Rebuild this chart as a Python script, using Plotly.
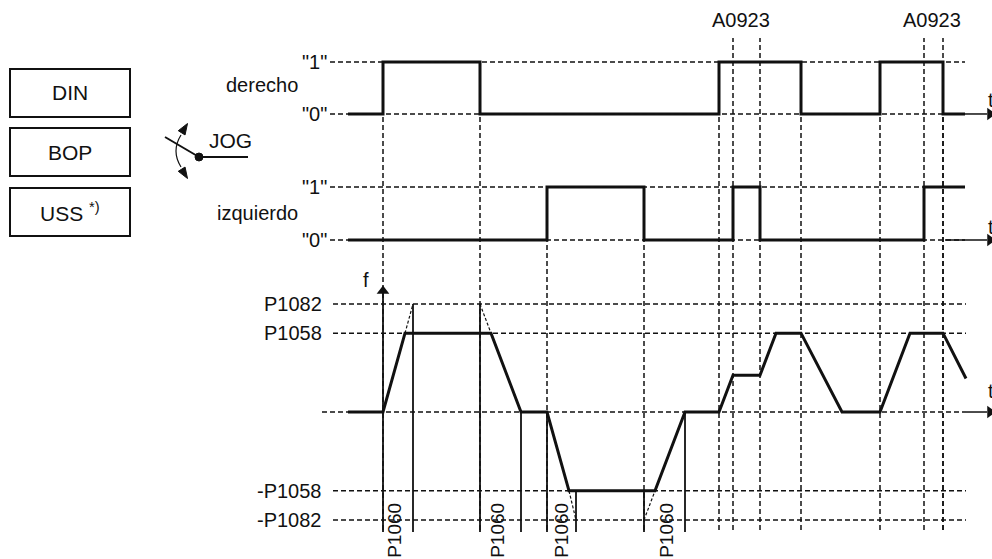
import plotly.graph_objects as go

# ---------------- data (time in arbitrary units, 0 = first start command) ----------------
der_t = [-3.5, 0.0, 9.7, 33.6, 41.8, 49.7, 56.0, 58.2]
der_v = [0, 1, 0, 1, 0, 1, 0, 0]
izq_t = [-3.5, 16.4, 26.1, 35.0, 37.7, 54.1, 58.2]
izq_v = [0, 1, 0, 1, 0, 1, 1]
f_t = [-3.5, 0.0, 2.2, 10.8, 13.8, 16.4, 18.6, 27.2, 30.2, 33.6, 35.0, 37.7,
       39.3, 41.8, 45.9, 49.7, 52.7, 56.0, 58.3]
f_v = [0, 0, 0.73, 0.73, 0, 0, -0.73, -0.73, 0, 0, 0.34, 0.34,
       0.73, 0.73, 0, 0, 0.73, 0.73, 0.31]

digital_levels = [0, 1]
digital_labels = ['"0"', '"1"']
f_levels = [1.0, 0.73, -0.73, -1.0]
f_labels = ['P1082', 'P1058', '-P1058', '-P1082']

der_edges = [0.0, 9.7, 33.6, 41.8, 49.7, 56.0]
izq_edges = [16.4, 26.1]
a0923_t = [35.0, 37.7, 54.1, 56.0]
a0923_label_t = [35.8, 54.9]
a0923_label = "A0923"

p1060_lines_t = [3.0, 9.7, 13.8, 16.4, 19.3, 26.1, 30.2]
p1060_lines_top = [1.0, 1.0, 0.0, 0.0, -0.73, -0.73, 0.0]
p1060_label_t = [1.2, 11.5, 17.9, 28.4]
p1060_label = "P1060"

ext_t0 = [2.2, 9.7, 18.6, 26.1]
ext_v0 = [0.73, 1.0, -0.73, -1.0]
ext_t1 = [3.0, 10.8, 19.3, 27.2]
ext_v1 = [1.0, 0.73, -1.0, -0.73]

source_boxes = ["DIN", "BOP", "USS <sup style='font-size:15px'>*)</sup>"]
signal_names = ["derecho", "izquierdo"]

# ---------------- layout helpers ----------------
W, H = 992, 559
INK = "#111111"
FONT = "Liberation Sans, Arial, sans-serif"
RANGES = {"der": (-8.558, 2.192), "izq": (-6.019, 4.528), "f": (-1.361, 3.815)}
YREF = {"der": "y", "izq": "y2", "f": "y3"}


def paper(panel, v):
    r0, r1 = RANGES[panel]
    return (v - r0) / (r1 - r0)


def px(x):
    return x / W


def py(y):
    return 1 - y / H


X_START_DASH = -5.3
X_END = 58.2
F_BOTTOM = -1.11
V_BOTTOM = -1.093

fig = go.Figure()

shapes = []
annotations = []

dash = "5px,3px"

# horizontal dashed reference lines
for panel in ("der", "izq"):
    for lv in digital_levels:
        shapes.append(dict(type="line", xref="x", yref=YREF[panel], x0=X_START_DASH, x1=X_END,
                           y0=lv, y1=lv, line=dict(color=INK, width=1.5, dash=dash)))
for lv in f_levels:
    shapes.append(dict(type="line", xref="x", yref="y3", x0=-5.0, x1=58.3,
                       y0=lv, y1=lv, line=dict(color=INK, width=1.5, dash=dash)))
shapes.append(dict(type="line", xref="x", yref="y3", x0=-6.1, x1=58.3,
                   y0=0, y1=0, line=dict(color=INK, width=1.5, dash=dash)))

# vertical dashed event lines
yb = paper("f", V_BOTTOM)
for t in der_edges:
    shapes.append(dict(type="line", xref="x", yref="paper", x0=t, x1=t, y0=yb,
                       y1=paper("der", 1), line=dict(color=INK, width=1.5, dash=dash)))
for t in izq_edges:
    shapes.append(dict(type="line", xref="x", yref="paper", x0=t, x1=t, y0=yb,
                       y1=paper("izq", 1), line=dict(color=INK, width=1.5, dash=dash)))
for t in a0923_t:
    shapes.append(dict(type="line", xref="x", yref="paper", x0=t, x1=t, y0=yb,
                       y1=paper("der", 1.46), line=dict(color=INK, width=1.5, dash=dash)))

# ramp extensions (dashed)
for a, b, c, d in zip(ext_t0, ext_v0, ext_t1, ext_v1):
    shapes.append(dict(type="line", xref="x", yref="y3", x0=a, y0=b, x1=c, y1=d,
                       line=dict(color=INK, width=1.2, dash="3px,2px")))

# P1060 solid marker lines
for t, top in zip(p1060_lines_t, p1060_lines_top):
    shapes.append(dict(type="line", xref="x", yref="y3", x0=t, x1=t, y0=F_BOTTOM, y1=top,
                       line=dict(color=INK, width=1.8)))
# f axis
shapes.append(dict(type="line", xref="x", yref="y3", x0=0, x1=0, y0=F_BOTTOM, y1=1.12,
                   line=dict(color=INK, width=1.8)))

# t axes (thin solid to arrow)
for panel, start in (("der", 58.2), ("izq", 56.2), ("f", 58.3)):
    shapes.append(dict(type="line", xref="x", yref=YREF[panel], x0=start, x1=60.4,
                       y0=0, y1=0, line=dict(color=INK, width=1.5)))

# source boxes
box_tops = [69, 128, 188]
for top, label in zip(box_tops, source_boxes):
    shapes.append(dict(type="rect", xref="paper", yref="paper", x0=px(10), x1=px(130),
                       y0=py(top + 48), y1=py(top), line=dict(color=INK, width=2)))
    annotations.append(dict(xref="paper", yref="paper", x=px(70), y=py(top + 24),
                            text=label, showarrow=False, font=dict(size=21, color=INK, family=FONT),
                            xanchor="center", yanchor="middle"))

# JOG switch
shapes.append(dict(type="line", xref="paper", yref="paper", x0=px(165), y0=py(137),
                   x1=px(199), y1=py(157), line=dict(color=INK, width=2)))
shapes.append(dict(type="line", xref="paper", yref="paper", x0=px(199), y0=py(157),
                   x1=px(248), y1=py(157), line=dict(color=INK, width=2)))
shapes.append(dict(type="circle", xref="paper", yref="paper", x0=px(195), x1=px(203),
                   y0=py(161), y1=py(153), fillcolor=INK, line=dict(color=INK, width=1)))
shapes.append(dict(type="path", xref="paper", yref="paper",
                   path=f"M {px(181)} {py(135)} Q {px(171)} {py(151)} {px(181)} {py(167)}",
                   line=dict(color=INK, width=1.2)))


def tri(tip, d, length=11, half=4):
    bx, by = tip[0] - d[0] * length, tip[1] - d[1] * length
    n = (-d[1], d[0])
    p1 = (bx + n[0] * half, by + n[1] * half)
    p2 = (bx - n[0] * half, by - n[1] * half)
    return (f"M {px(tip[0])} {py(tip[1])} L {px(p1[0])} {py(p1[1])} "
            f"L {px(p2[0])} {py(p2[1])} Z")


shapes.append(dict(type="path", xref="paper", yref="paper", path=tri((187.5, 123.5), (0.53, -0.848)),
                   fillcolor=INK, line=dict(color=INK, width=1)))
shapes.append(dict(type="path", xref="paper", yref="paper", path=tri((187.5, 178.5), (0.53, 0.848)),
                   fillcolor=INK, line=dict(color=INK, width=1)))
annotations.append(dict(xref="paper", yref="paper", x=px(207), y=py(140), text="JOG",
                        showarrow=False, xanchor="left", yanchor="middle",
                        font=dict(size=21, color=INK, family=FONT)))

# signal traces
fig.add_trace(go.Scatter(x=der_t, y=der_v, mode="lines", line=dict(color=INK, width=3, shape="hv"),
                         yaxis="y", hoverinfo="skip"))
fig.add_trace(go.Scatter(x=izq_t, y=izq_v, mode="lines", line=dict(color=INK, width=3, shape="hv"),
                         yaxis="y2", hoverinfo="skip"))
fig.add_trace(go.Scatter(x=f_t, y=f_v, mode="lines", line=dict(color=INK, width=3),
                         yaxis="y3", hoverinfo="skip"))

# arrowheads and t labels
t_label_level = {"der": 0.27, "izq": 0.25, "f": 0.19}
for panel in ("der", "izq", "f"):
    fig.add_trace(go.Scatter(x=[60.7], y=[0], mode="markers", yaxis=YREF[panel],
                             marker=dict(symbol="triangle-right", size=11, color=INK),
                             hoverinfo="skip"))
    annotations.append(dict(xref="x", yref=YREF[panel], x=60.3, y=t_label_level[panel], text="t",
                            showarrow=False, xanchor="left", yanchor="middle",
                            font=dict(size=20, color=INK, family=FONT)))
fig.add_trace(go.Scatter(x=[0], y=[1.12], mode="markers", yaxis="y3",
                         marker=dict(symbol="triangle-up", size=11, color=INK), hoverinfo="skip"))
annotations.append(dict(xref="x", yref="y3", x=-1.7, y=1.22, text="f", showarrow=False,
                        font=dict(size=20, color=INK, family=FONT)))

# level labels
for panel in ("der", "izq"):
    for lv, lab in zip(digital_levels, digital_labels):
        annotations.append(dict(xref="x", yref=YREF[panel], x=-5.4, y=lv, text=lab,
                                showarrow=False, xanchor="right", yanchor="middle",
                                font=dict(size=20, color=INK, family=FONT)))
for lv, lab in zip(f_levels, f_labels):
    annotations.append(dict(xref="x", yref="y3", x=-5.9, y=lv, text=lab,
                            showarrow=False, xanchor="right", yanchor="middle",
                            font=dict(size=20, color=INK, family=FONT)))

# signal names
annotations.append(dict(xref="x", yref="y", x=-8.3, y=0.55, text=signal_names[0], showarrow=False,
                        xanchor="right", yanchor="middle", font=dict(size=20, color=INK, family=FONT)))
annotations.append(dict(xref="x", yref="y2", x=-8.3, y=0.5, text=signal_names[1], showarrow=False,
                        xanchor="right", yanchor="middle", font=dict(size=20, color=INK, family=FONT)))

# A0923 labels
for t in a0923_label_t:
    annotations.append(dict(xref="x", yref="y", x=t, y=1.8, text=a0923_label, showarrow=False,
                            xanchor="center", yanchor="middle",
                            font=dict(size=20, color=INK, family=FONT)))

# P1060 labels
for t in p1060_label_t:
    annotations.append(dict(xref="x", yref="y3", x=t, y=-1.10, text=p1060_label, showarrow=False,
                            textangle=-90, xanchor="center", yanchor="middle",
                            font=dict(size=19, color=INK, family=FONT)))

fig.update_layout(
    width=W, height=H, autosize=False,
    margin=dict(l=0, r=0, t=0, b=0),
    paper_bgcolor="white", plot_bgcolor="white",
    showlegend=False,
    hovermode=False,
    xaxis=dict(range=[-38.3, 60.9], visible=False, domain=[0, 1], fixedrange=True),
    yaxis=dict(range=list(RANGES["der"]), visible=False, domain=[0, 1], fixedrange=True),
    yaxis2=dict(range=list(RANGES["izq"]), visible=False, overlaying="y", fixedrange=True),
    yaxis3=dict(range=list(RANGES["f"]), visible=False, overlaying="y", fixedrange=True),
    shapes=shapes,
    annotations=annotations,
)

fig.write_html("out.html", config={"displayModeBar": False, "staticPlot": True},
               post_script="document.body.style.margin='0';document.body.style.overflow='hidden';")
